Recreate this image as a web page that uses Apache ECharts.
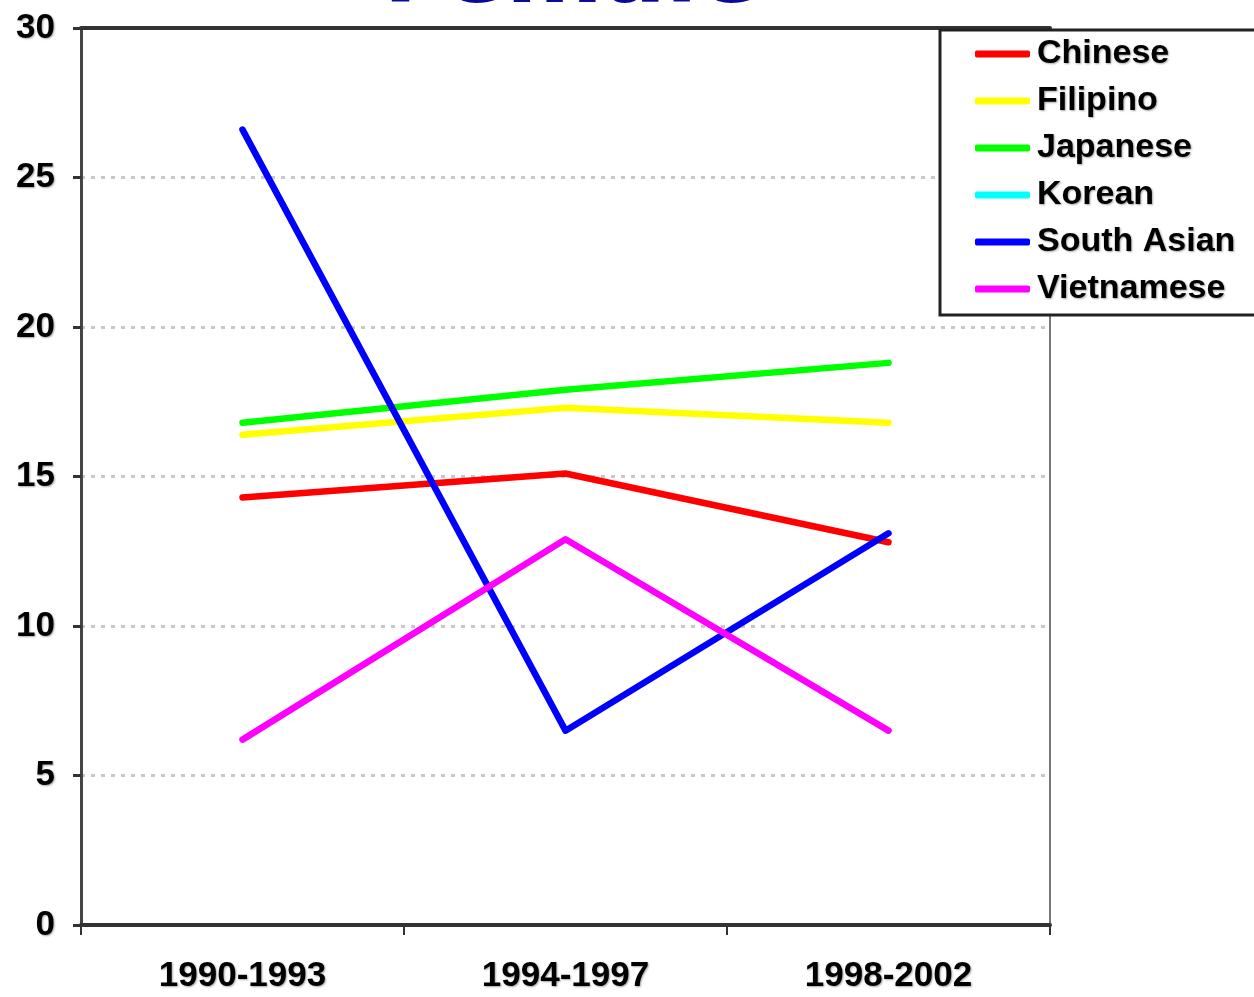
<!DOCTYPE html>
<html>
<head>
<meta charset="utf-8">
<script src="https://cdn.jsdelivr.net/npm/echarts@6/dist/echarts.min.js"></script>
<style>html,body{margin:0;padding:0;background:#fff;}#c{width:1254px;height:997px;}</style>
</head>
<body>
<div id="c"></div>
<script>
const categories = ['1990-1993', '1994-1997', '1998-2002'];
const chinese = [14.3, 15.1, 12.8];
const filipino = [16.4, 17.3, 16.8];
const japanese = [16.8, 17.9, 18.8];
const korean = [null, null, null];
const southAsian = [26.6, 6.5, 13.1];
const vietnamese = [6.2, 12.9, 6.5];
const yTicks = [0, 5, 10, 15, 20, 25, 30];

const seriesDefs = [
  ['Chinese', chinese, '#ff0000'],
  ['Filipino', filipino, '#ffff00'],
  ['Japanese', japanese, '#00ff00'],
  ['Korean', korean, '#00ffff'],
  ['South Asian', southAsian, '#0000ff'],
  ['Vietnamese', vietnamese, '#ff00ff']
];

const chart = echarts.init(document.getElementById('c'));
const boldText = {fontFamily: 'Liberation Sans, Arial, sans-serif', fontWeight: 'bold', color: '#000', fontSize: 35,
  textShadowColor: 'rgba(0,0,0,0.35)', textShadowBlur: 2, textShadowOffsetX: 1, textShadowOffsetY: 1};
chart.setOption({
  animation: false,
  backgroundColor: '#fff',
  title: {
    text: 'Female', left: 567, top: -74, textAlign: 'center',
    textStyle: {fontFamily: 'DejaVu Sans, Verdana, sans-serif', fontWeight: 'bold', fontSize: 93, color: '#0a0a9a'}
  },
  grid: {left: 81, right: 204, top: 28, bottom: 72, containLabel: false},
  legend: {
    orient: 'vertical', left: 940, top: 30,
    padding: [7, 80, 9, 35],
    borderColor: '#222', borderWidth: 3, backgroundColor: '#fff',
    itemWidth: 55, itemHeight: 7, itemGap: 13,
    icon: 'roundRect',
    textStyle: Object.assign({}, boldText, {fontSize: 34, lineHeight: 30, padding: [0, 0, 0, 2]}),
    data: seriesDefs.map(d => d[0])
  },
  xAxis: [{
    type: 'category', data: categories, position: 'bottom', boundaryGap: true,
    axisLine: {lineStyle: {color: '#333', width: 4}},
    axisTick: {show: true, length: 10, inside: false, lineStyle: {color: '#333', width: 2}},
    axisLabel: Object.assign({}, boldText, {margin: 34}),
    splitLine: {show: false}
  }, {
    type: 'category', data: categories, position: 'top', boundaryGap: true,
    axisLine: {show: true, onZero: false, lineStyle: {color: '#333', width: 4}},
    axisTick: {show: false}, axisLabel: {show: false}, splitLine: {show: false}
  }],
  yAxis: [{
    type: 'value', min: 0, max: 30, interval: 5,
    axisLine: {show: true, lineStyle: {color: '#444', width: 3}},
    axisTick: {show: true, length: 8, lineStyle: {color: '#333', width: 3}},
    axisLabel: Object.assign({}, boldText, {margin: 26, formatter: v => yTicks.includes(v) ? String(v) : ''}),
    splitLine: {show: true, showMinLine: false, showMaxLine: false, lineStyle: {color: '#c8c8c8', width: 3, type: [4, 6]}}
  }, {
    type: 'value', min: 0, max: 30, interval: 5, position: 'right',
    axisLine: {show: true, onZero: false, lineStyle: {color: '#777', width: 2}},
    axisTick: {show: false}, axisLabel: {show: false}, splitLine: {show: false}
  }],
  series: seriesDefs.map(d => ({
    name: d[0], type: 'line', data: d[1], color: d[2],
    symbol: 'none', showSymbol: false,
    lineStyle: {width: 6.5, color: d[2], cap: 'round', join: 'round'},
    itemStyle: {color: d[2]}
  }))
});
</script>
</body>
</html>
